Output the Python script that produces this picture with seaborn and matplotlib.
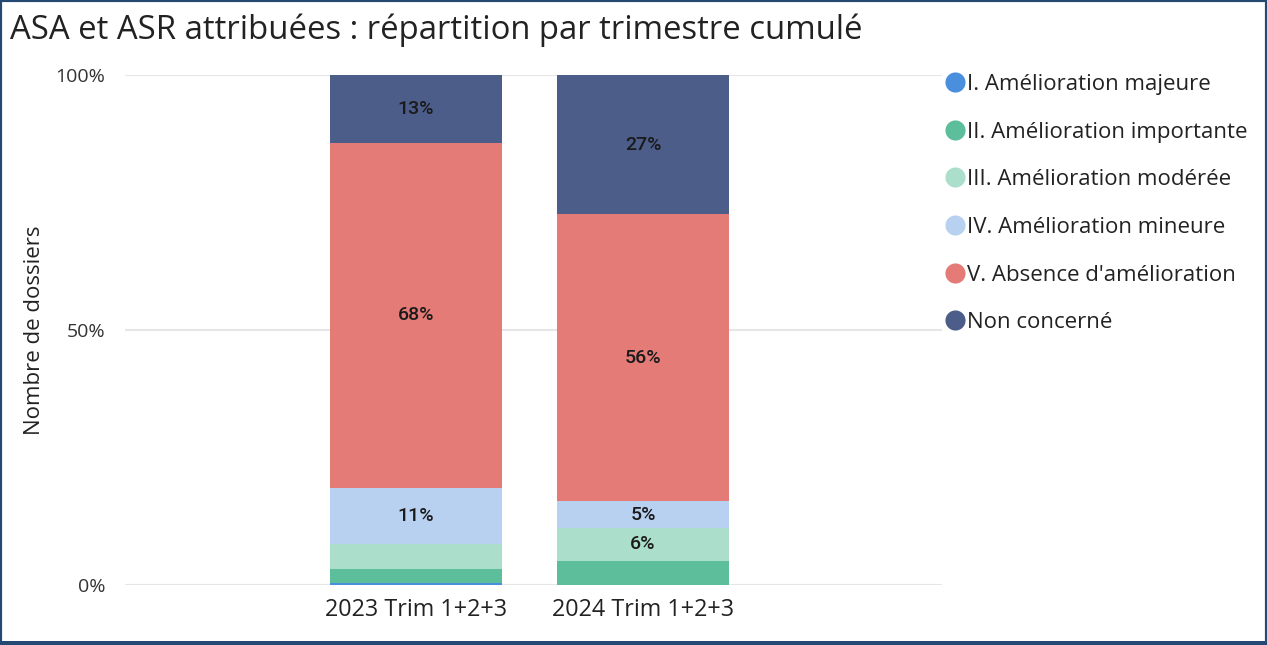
import matplotlib
matplotlib.use("Agg")
import matplotlib.pyplot as plt
from matplotlib.lines import Line2D
from matplotlib.patches import Rectangle
import seaborn as sns
import pandas as pd
import numpy as np

# Data (percent of files)
periods = ["2023 Trim 1+2+3", "2024 Trim 1+2+3"]
categories = [
    "I. Amélioration majeure",
    "II. Amélioration importante",
    "III. Amélioration modérée",
    "IV. Amélioration mineure",
    "V. Absence d'amélioration",
    "Non concerné",
]
values_2023 = [0.4, 2.75, 4.95, 11.0, 67.6, 13.3]
values_2024 = [0.0, 4.75, 6.45, 5.2, 56.3, 27.3]
colors = ["#4A8FDD", "#5DBE9B", "#ACDFCB", "#B8D1F0", "#E47B77", "#4C5D89"]

df = pd.DataFrame({"period": np.repeat(periods, len(categories)),
                   "category": categories * 2,
                   "value": values_2023 + values_2024})
df["top"] = df.groupby("period")["value"].cumsum()
df["bottom"] = df["top"] - df["value"]

sns.set_theme(style="white")
plt.rcParams["font.family"] = ["Open Sans", "DejaVu Sans"]

fig = plt.figure(figsize=(12.67, 6.45), dpi=100)
ax = fig.add_axes([125 / 1267, 60 / 645, 817 / 1267, 510 / 645])

# stacked bars: draw cumulative tops from the last category down
for cat, col in reversed(list(zip(categories, colors))):
    sub = df[df["category"] == cat]
    sns.barplot(data=sub, x="period", y="top", order=periods, color=col,
                width=0.758, saturation=1, ax=ax, errorbar=None, linewidth=0)

# value labels
for _, r in df.iterrows():
    if r["value"] >= 5:
        xi = periods.index(r["period"])
        ax.text(xi, r["bottom"] + r["value"] / 2, f"{r['value']:.0f}%",
                ha="center", va="center", fontsize=14, color="#1A1A1A",
                family="Roboto", weight="medium")

ax.set_xlim(-1.282, 2.317)
ax.set_ylim(0, 100)
ax.set_yticks([0, 50, 100])
ax.set_yticklabels(["0%", "50%", "100%"])
ax.yaxis.grid(True, color="#E6E6E6", linewidth=1.5)
ax.set_axisbelow(True)
for s in ax.spines.values():
    s.set_visible(False)
ax.tick_params(axis="y", length=0, labelsize=14, labelcolor="#333333", pad=14)
ax.tick_params(axis="x", length=0, labelsize=16.8, labelcolor="#222222", pad=9)
ax.set_xlabel("")
ax.set_ylabel("Nombre de dossiers", fontsize=16, color="#222222", labelpad=8)

fig.text(10 / 1267, 1 - 30 / 645, "ASA et ASR attribuées : répartition par trimestre cumulé",
         fontsize=23.7, color="#222222", va="center", ha="left")

handles = [Line2D([0], [0], marker="o", linestyle="", markersize=14.5,
                  markerfacecolor=c, markeredgewidth=0) for c in colors]
fig.legend(handles, categories, loc="upper left",
           bbox_to_anchor=(934 / 1267, 1 - 65 / 645), frameon=False,
           fontsize=16, handletextpad=0.0, labelspacing=1.2,
           handlelength=1.1, borderaxespad=0, labelcolor="#222222")

# frame around the figure
border = "#244A73"
fig.patches.append(Rectangle((0, 0), 1, 1, transform=fig.transFigure,
                             fill=False, edgecolor=border, linewidth=3))
fig.patches.append(Rectangle((0, 0), 1, 4 / 645, transform=fig.transFigure,
                             facecolor=border, edgecolor="none"))

fig.savefig("out.png", dpi=100)
